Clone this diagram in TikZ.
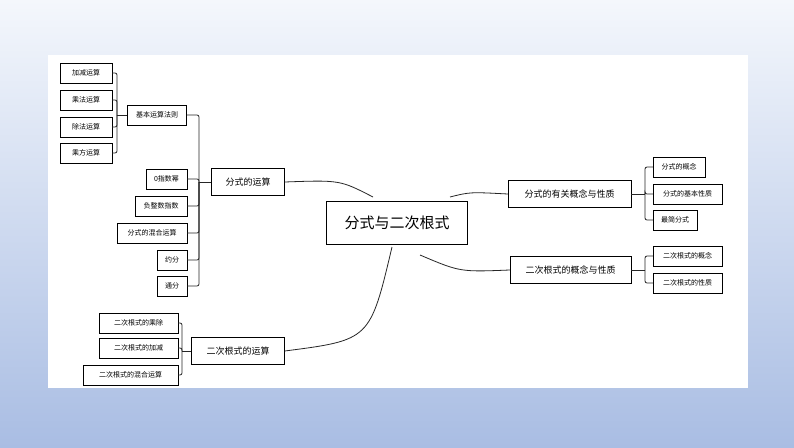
\documentclass[tikz,border=0pt]{standalone}
\usepackage{fontspec}
\newfontfamily\cjk{Noto Sans CJK SC}
\usetikzlibrary{positioning}
\definecolor{bgtop}{HTML}{F4F7FC}
\definecolor{bgbot}{HTML}{A9BDE3}
\tikzset{
    rootBox/.style={draw, thick, fill=white, font=\cjk\fontsize{15}{17}\selectfont, minimum width=141pt, minimum height=43pt, inner sep=0pt},
    mainBox/.style={draw, fill=white, font=\cjk\fontsize{9}{10}\selectfont, minimum height=27pt, inner sep=0pt},
    leafBox/.style={draw, fill=white, font=\cjk\fontsize{7}{8}\selectfont, minimum height=20pt, inner sep=0pt},
    mapLink/.style={thick, black!85},
    busLink/.style={thick, black!85, rounded corners=2pt},
}
\begin{document}
\begin{tikzpicture}[x=1pt, y=-1pt]
    \useasboundingbox (0,0) rectangle (794,447);
    \shade[top color=bgtop, bottom color=bgbot] (0,0) rectangle (794,447);
    \fill[white] (48,55) rectangle (748,388);

    % centre
    \node[rootBox] (root) at (397,223) {分式与二次根式};

    % left side
    \node[mainBox, minimum width=73pt] (calc) at (248,182) {分式的运算};
    \node[mainBox, minimum width=93pt] (rcalc) at (238,351) {二次根式的运算};
    \node[leafBox, minimum width=59pt] (rules) at (157,115) {基本运算法则};
    \node[leafBox, minimum width=52pt] (add) at (86,73) {加减运算};
    \node[leafBox, minimum width=52pt] (mul) at (86,100) {乘法运算};
    \node[leafBox, minimum width=52pt] (div) at (86,127) {除法运算};
    \node[leafBox, minimum width=52pt] (pow) at (86,153) {乘方运算};
    \node[leafBox, minimum width=41pt] (zero) at (166.5,179) {0指数幂};
    \node[leafBox, minimum width=52pt] (neg) at (161,206) {负整数指数};
    \node[leafBox, minimum width=70pt] (mix) at (152,233) {分式的混合运算};
    \node[leafBox, minimum width=30pt] (red) at (172,260) {约分};
    \node[leafBox, minimum width=30pt] (com) at (172,286) {通分};
    \node[leafBox, minimum width=79pt] (rmul) at (138.5,323) {二次根式的乘除};
    \node[leafBox, minimum width=79pt] (radd) at (138.5,348) {二次根式的加减};
    \node[leafBox, minimum width=95pt] (rmix) at (130.5,375) {二次根式的混合运算};

    % right side
    \node[mainBox, minimum width=123pt] (frac) at (569.5,194) {分式的有关概念与性质};
    \node[mainBox, minimum width=121pt] (root2) at (570.5,270) {二次根式的概念与性质};
    \node[leafBox, minimum width=52pt] (fdef) at (679,167) {分式的概念};
    \node[leafBox, minimum width=69pt] (fprop) at (687.5,194) {分式的基本性质};
    \node[leafBox, minimum width=44pt] (simp) at (675,220) {最简分式};
    \node[leafBox, minimum width=69pt] (rdef) at (687.5,256) {二次根式的概念};
    \node[leafBox, minimum width=69pt] (rprop) at (687.5,283) {二次根式的性质};

    % curves from centre
    \draw[mapLink] (373,197) .. controls (340,180) .. (calc.east);
    \draw[mapLink] (392,247) .. controls (370,340) .. (rcalc.east);
    \draw[mapLink] (450,197) .. controls (470,192) .. (frac.west);
    \draw[mapLink] (420,255) .. controls (460,272) .. (root2.west);

    % buses
    \draw[mapLink] (calc.west) -- (199,182);
    \foreach \n in {rules,zero,neg,mix,red,com}
        \draw[busLink] (\n.east) -| (199,182);
    \draw[mapLink] (rules.west) -- (117,115);
    \foreach \n in {add,mul,div,pow}
        \draw[busLink] (\n.east) -| (117,115);
    \draw[mapLink] (rcalc.west) -- (182,351);
    \foreach \n in {rmul,radd,rmix}
        \draw[busLink] (\n.east) -| (182,351);
    \draw[mapLink] (frac.east) -- (645,194);
    \foreach \n in {fdef,fprop,simp}
        \draw[busLink] (\n.west) -| (645,194);
    \draw[mapLink] (root2.east) -- (645,270);
    \foreach \n in {rdef,rprop}
        \draw[busLink] (\n.west) -| (645,270);
\end{tikzpicture}
\end{document}
